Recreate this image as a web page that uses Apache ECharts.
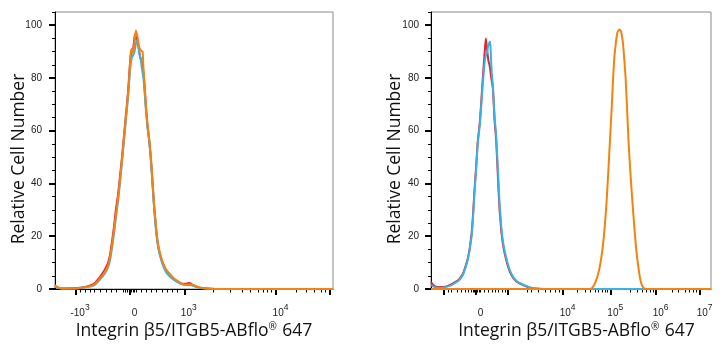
<!DOCTYPE html>
<html><head><meta charset="utf-8">
<script src="https://cdn.jsdelivr.net/npm/echarts@6/dist/echarts.min.js"></script>
<style>html,body{margin:0;padding:0;background:#fff}#c{width:723px;height:350px}</style>
</head><body><div id="c"></div>
<script>
// x: display channel (biexponential scale, 0..1000), y: relative cell number
const yTicks = [0, 20, 40, 60, 80, 100];
const yMinorTicks = [5, 10, 15, 25, 30, 35, 45, 50, 55, 65, 70, 75, 85, 90, 95, 105];

const leftMajorTicks = [74, 270, 465, 795, 989];
const leftMinorTicks = [92, 110, 126, 140, 162, 186, 204, 222, 246, 254, 261, 266, 275, 281, 286, 293,
  312, 330, 348, 363, 384, 402, 420, 438, 569, 629, 672, 704, 731, 749, 764, 779, 869, 905, 932, 956, 971];
const leftLabelValues = [74, 270, 465, 795];
const leftLabels = ['-10^3', '0', '10^3', '10^4'];

const rightMajorTicks = [44, 161, 274, 472, 642, 804, 961];
const rightMinorTicks = [60, 74, 92, 107, 121, 133, 145, 150, 155, 166, 171, 177, 190, 205, 217, 229, 240, 255, 264,
  342, 357, 383, 407, 425, 443, 457, 524, 550, 570, 586, 598, 610, 621, 631,
  711, 735, 756, 770, 782, 792, 860, 883, 907, 921, 935, 946];
const rightLabelValues = [161, 472, 642, 804, 961];
const rightLabels = ['0', '10^4', '10^5', '10^6', '10^7'];

const xTitle = 'Integrin β5/ITGB5-ABflo{r|®} 647';
const yTitle = 'Relative Cell Number';

// Left panel
const leftRed = [[0,1.2],[7,0.6],[25,0.2],[54,0.3],[90,0.5],[119,1.1],[140,2],[162,4.6],[180,7.5],[191,10],[198,13],[205,18],[212,23.5],[219,30],[227,36],[234,43],[241,50],[248,58],[255,66],[263,75],[268,83],[272,88],[277,90],[281,91],[286,95.5],[289,96.5],[294,94],[300,92],[306,88],[312,86],[318,82],[322,77],[327,69],[333,61.5],[338,57],[344,50.5],[349,43],[356,32],[363,23.5],[370,17],[378,13],[388,9.8],[399,7.3],[414,5.3],[428,3.8],[442,2.8],[457,2],[471,2],[480,2.3],[486,2.2],[493,1.7],[500,1.2],[514,0.7],[532,0.3],[558,0.1],[594,0],[1000,0]];
const leftCyan = [[0,0.9],[7,0.5],[25,0.2],[54,0.2],[90,0.3],[119,0.8],[140,1.4],[162,3.6],[180,6],[191,8.3],[198,11],[205,15.5],[212,21],[219,27],[227,33.5],[234,40.5],[241,48],[248,56],[255,64],[263,73],[268,80],[272,85],[277,88],[281,88.5],[286,90],[291,93],[296,94.5],[300,92],[304,89],[308,87.5],[312,84],[318,80],[322,75],[327,68],[333,61],[338,57],[344,50],[349,42.5],[356,31.5],[363,22.5],[370,16.5],[378,12.5],[388,9],[399,6.5],[414,4.6],[428,3.4],[442,2.5],[457,1.8],[471,1.5],[486,1.5],[500,1.1],[514,0.6],[532,0.3],[558,0.1],[594,0],[1000,0]];
const leftOrange = [[0,1.5],[7,0.8],[25,0.2],[54,0.2],[90,0.4],[119,0.9],[140,1.6],[162,4],[180,6.5],[191,9],[198,12],[205,16.5],[212,22],[219,28],[227,34.5],[234,41.5],[241,49],[248,57],[255,65],[263,74],[268,82],[272,89],[275,91],[281,89.5],[286,94],[291,98],[297,95.5],[302,92],[308,90.5],[315,90],[318,84],[322,78],[327,70],[333,62],[338,58],[344,51],[349,44],[356,33],[363,24],[370,17.5],[378,13.5],[388,10],[399,7.5],[414,5.5],[428,4],[442,3],[457,2],[471,1.6],[486,1.8],[500,1.4],[514,0.8],[532,0.4],[558,0.1],[594,0],[1000,0]];

// Right panel
const rightRed = [[0,2.6],[7,1.6],[18,0.9],[32,0.8],[50,0.9],[61,1.2],[74,1.8],[86,2.6],[98,3.4],[107,4.6],[115,6],[123,8.5],[130,11],[136,14],[139,16],[145,21],[150,28],[155,37],[161,46],[167,56],[175,64],[183,76.7],[189,86],[193,91.5],[196,95],[200,91],[205,86.5],[209,85],[214,81],[221,76],[227,64],[233,56],[240,40],[245,30],[248,26],[251,22],[257,17],[263,13.5],[275,8.5],[287,5.3],[305,2.8],[329,1.5],[354,0.5],[379,0.1],[407,0],[1000,0]];
const rightCyan = [[0,1.5],[7,1],[18,0.6],[32,0.5],[50,0.7],[61,1],[74,1.5],[86,2.3],[98,3.1],[107,4.2],[115,5.6],[123,8],[130,10.5],[136,13.5],[139,15.5],[145,20],[150,27],[155,36],[161,45],[167,55],[175,63],[183,75],[189,83],[193,87],[196,88.5],[200,89.5],[204,92],[211,93.8],[214,88],[217,82],[221,77],[227,65.5],[233,57.5],[240,43],[245,32],[248,28],[251,23.5],[257,18],[263,14.5],[275,9.3],[287,5.8],[305,3],[329,1.6],[354,0.6],[379,0.15],[407,0],[1000,0]];
const rightOrange = [[0,0],[560,0],[574,0.3],[586,2.2],[600,7],[611,14],[620,23],[627,33],[633,44],[639,56],[645,68],[650,79],[655,88],[661,94],[666,97.3],[673,98.4],[679,97.5],[684,94.5],[689,89],[695,80],[700,69],[705,57],[711,46],[718,35],[725,25],[734,14],[743,6.5],[750,2.5],[758,0.5],[771,0],[1000,0]];

const RED = '#e8212b', CYAN = '#36b3e4', ORANGE = '#f5820f';

function labelFmt(values, labels) {
  return function (v) {
    let i = values.indexOf(v);
    if (i < 0) { let best = 1e9; values.forEach((w, k) => { if (Math.abs(w - v) < best) { best = Math.abs(w - v); i = k; } }); }
    const t = labels[i];
    if (t.indexOf('^') >= 0) { const p = t.split('^'); return '{b|' + p[0] + '}{s|' + p[1] + '}'; }
    return '{b|' + t + '}';
  };
}
const tickRich = {
  b: { fontSize: 10, color: '#222', fontFamily: 'Liberation Sans', verticalAlign: 'bottom' },
  s: { fontSize: 8.5, color: '#222', fontFamily: 'Liberation Sans', verticalAlign: 'bottom', padding: [0, 0, 6, 0] }
};
const titleFont = { fontSize: 17.5, color: '#111', fontFamily: 'Open Sans',
  rich: { r: { fontSize: 10, color: '#111', fontFamily: 'Open Sans', verticalAlign: 'bottom', padding: [0, 1, 8, 0] } } };

function xAxes(gridIndex, majors, minors, labelVals, labels, namePad) {
  return [{
    gridIndex, type: 'value', min: 0, max: 1000, position: 'bottom',
    name: xTitle, nameLocation: 'middle', nameGap: 33, nameMoveOverlap: false,
    nameTextStyle: Object.assign({ padding: namePad }, titleFont),
    axisLine: { show: true, onZero: false, lineStyle: { color: '#000', width: 1 } },
    axisTick: { show: true, customValues: majors, length: 6, lineStyle: { color: '#000', width: 2 } },
    axisLabel: { show: true, customValues: labelVals, formatter: labelFmt(labelVals, labels), rich: tickRich,
      margin: 29, verticalAlign: 'bottom', padding: [0, 0, 0, 9] },
    splitLine: { show: false }
  }, {
    gridIndex, type: 'value', min: 0, max: 1000, position: 'bottom',
    axisLine: { show: false },
    axisTick: { show: true, customValues: minors, length: 3.5, lineStyle: { color: '#000', width: 1 } },
    axisLabel: { show: false }, splitLine: { show: false }
  }];
}
function yAxes(gridIndex, margin) {
  return [{
    gridIndex, type: 'value', min: 0, max: 105, position: 'left',
    name: yTitle, nameLocation: 'middle', nameGap: 27, nameMoveOverlap: false,
    nameTextStyle: Object.assign({ padding: [0, 17, 0, 0] }, titleFont),
    axisLine: { show: true, onZero: false, lineStyle: { color: '#000', width: 1 } },
    axisTick: { show: true, customValues: yTicks, length: 6, lineStyle: { color: '#000', width: 2 } },
    axisLabel: { show: true, customValues: yTicks, margin: margin, fontSize: 10, color: '#222', fontFamily: 'Liberation Sans' },
    splitLine: { show: false }
  }, {
    gridIndex, type: 'value', min: 0, max: 105, position: 'left',
    axisLine: { show: false },
    axisTick: { show: true, customValues: yMinorTicks, length: 3, lineStyle: { color: '#000', width: 1 } },
    axisLabel: { show: false }, splitLine: { show: false }
  }];
}
function line(data, color, xi, yi) {
  return { type: 'line', data, xAxisIndex: xi, yAxisIndex: yi, showSymbol: false, symbol: 'none',
    smooth: 0.2, lineStyle: { color, width: 2 }, itemStyle: { color }, animation: false };
}

const chart = echarts.init(document.getElementById('c'), null, { renderer: 'canvas' });
chart.setOption({
  animation: false,
  backgroundColor: '#fff',
  grid: [
    { left: 55, top: 12, width: 278, height: 277, show: true, borderColor: '#8a8a8a', borderWidth: 1, containLabel: false },
    { left: 431, top: 12, width: 280, height: 277, show: true, borderColor: '#8a8a8a', borderWidth: 1, containLabel: false }
  ],
  xAxis: [].concat(
    xAxes(0, leftMajorTicks, leftMinorTicks, leftLabelValues, leftLabels, [0, 0, 0, 0]),
    xAxes(1, rightMajorTicks, rightMinorTicks, rightLabelValues, rightLabels, [0, 0, 0, 11])
  ),
  yAxis: [].concat(yAxes(0, 13), yAxes(1, 12)),
  series: [
    line(leftRed, RED, 0, 0), line(leftCyan, CYAN, 0, 0), line(leftOrange, ORANGE, 0, 0),
    line(rightRed, RED, 2, 2), line(rightCyan, CYAN, 2, 2), line(rightOrange, ORANGE, 2, 2)
  ]
});
</script></body></html>
